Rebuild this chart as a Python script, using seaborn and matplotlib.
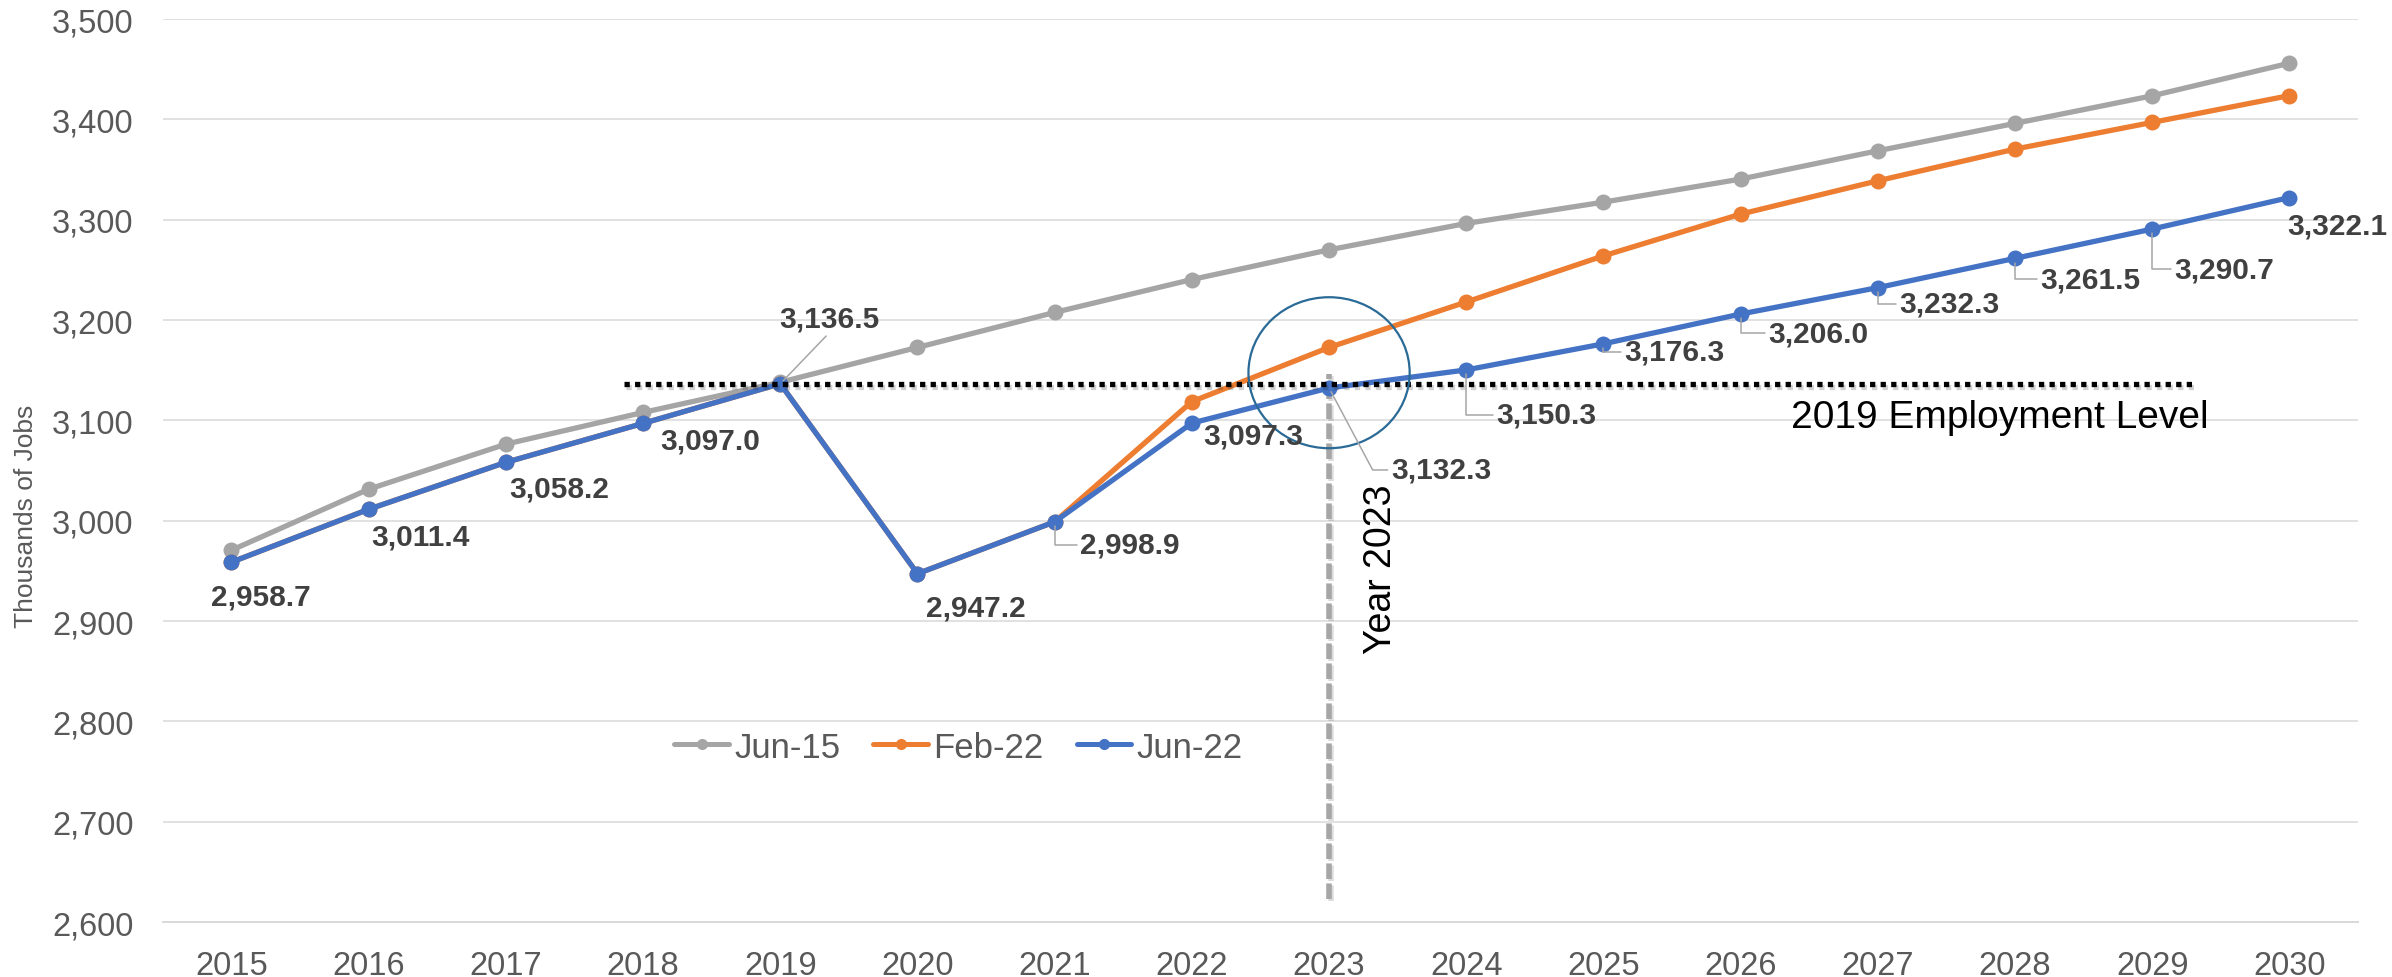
import pandas as pd
import seaborn as sns
import matplotlib.pyplot as plt
import matplotlib.patheffects as pe
from matplotlib.lines import Line2D
from matplotlib.patches import Ellipse
from matplotlib.ticker import FuncFormatter

# data
years = list(range(2015, 2031))
series_names = ["Jun-15", "Feb-22", "Jun-22"]
jun15 = [2970.6, 3031.4, 3076.3, 3107.9, 3138.0, 3172.7, 3207.6, 3240.4,
         3270.0, 3296.3, 3317.5, 3340.5, 3368.7, 3396.0, 3423.5, 3456.0]
feb22 = [2958.7, 3011.4, 3058.2, 3097.0, 3136.5, 2947.2, 2998.9, 3118.7,
         3172.7, 3218.0, 3264.0, 3305.6, 3338.8, 3370.4, 3397.0, 3423.7]
jun22 = [2958.7, 3011.4, 3058.2, 3097.0, 3136.5, 2947.2, 2998.9, 3097.3,
         3132.3, 3150.3, 3176.3, 3206.0, 3232.3, 3261.5, 3290.7, 3322.1]
colors = ["#A5A5A5", "#ED7D31", "#4472C4"]

ref_year = 2023
level_2019 = jun22[years.index(2019)]
level_line_span = (2017.86, 2029.29)
ref_line_span = (2623, 3146)

# where each Jun-22 label sits, in pixels from its point (dx right, dy down),
# and what kind of leader line it gets
label_layout = [
    (29, 34, None), (52, 27, None), (53, 26, None), (67, 17, None),
    (49, -65, "straight"), (58, 34, None), (75, 23, "L"), (61, 12, None),
    (112, 82, "diag"), (80, 45, "L"), (71, 8, "L"), (78, 19, "L"),
    (72, 16, "L"), (75, 21, "L"), (72, 40, "L"), (48, 28, None),
]

df = pd.DataFrame({
    "year": years * 3,
    "jobs": jun15 + feb22 + jun22,
    "series": [s for s in series_names for _ in years],
})

sns.set_theme(style="white")
plt.rcParams["font.family"] = ["Liberation Sans", "DejaVu Sans"]

fig, ax = plt.subplots(figsize=(23.92, 9.78), dpi=100)
fig.subplots_adjust(left=0.0681, right=0.9858, bottom=0.0562, top=0.9795)

sns.lineplot(data=df, x="year", y="jobs", hue="series", hue_order=series_names,
             palette=colors, marker="o", markersize=11.5, markeredgewidth=0,
             linewidth=3.8, legend=False, ax=ax, zorder=3)

ax.set_xlim(2014.5, 2030.5)
ax.set_ylim(2600, 3500)

# axes / grid
ax.set_yticks(range(2600, 3501, 100))
ax.yaxis.set_major_formatter(FuncFormatter(lambda v, p: f"{v:,.0f}"))
ax.set_xticks(years)
ax.set_xticks([y - 0.5 for y in years] + [years[-1] + 0.5], minor=True)
ax.grid(axis="y", color="#D9D9D9", linewidth=1.1)
for side in ["left", "right", "top"]:
    ax.spines[side].set_visible(False)
ax.spines["bottom"].set_color("#D9D9D9")
ax.spines["bottom"].set_linewidth(1.4)
ax.tick_params(axis="x", which="major", direction="inout", length=10, width=1.1,
               color="#D9D9D9", pad=15, labelsize=23.5, labelcolor="#595959")
ax.tick_params(axis="x", which="minor", direction="inout", length=13, width=1.1,
               color="#D9D9D9")
ax.tick_params(axis="y", length=0, pad=21, labelsize=23.5, labelcolor="#595959")
ax.set_xlabel("")
ax.set_ylabel("Thousands of Jobs", fontsize=19, color="#595959", va="center")
ax.yaxis.set_label_coords(-0.0624, 0.4507)

# 2019 employment level line
ax.hlines(level_2019, *level_line_span, colors="black", linewidth=3.8,
          linestyles=(0, (1, 1)), zorder=4,
          path_effects=[pe.SimpleLineShadow(offset=(1.5, -2.5), alpha=0.2), pe.Normal()])
ax.text(2027.89, 3093, "2019 Employment Level", fontsize=28, color="black",
        ha="center", va="baseline")

# year 2023 marker
ax.vlines(ref_year, *ref_line_span, colors="#A6A6A6", linewidth=4,
          linestyles=(0, (2.8, 0.8)), zorder=2,
          path_effects=[pe.SimpleLineShadow(offset=(1.5, -1.5), alpha=0.15), pe.Normal()])
ax.text(ref_year + 0.38, 2953, "Year 2023", fontsize=27, color="black",
        rotation=90, ha="center", va="center")
ax.add_patch(Ellipse((ref_year, 3147.5), 1.175, 150.5, fill=False,
                     edgecolor="#2A6A96", linewidth=1.6, zorder=5))

# data labels for the Jun-22 series
leader = dict(arrowstyle="-", color="#A6A6A6", lw=1.1, shrinkA=0, shrinkB=3)
for yr, val, (dx, dy, kind) in zip(years, jun22, label_layout):
    props = None
    if kind == "L":
        props = dict(leader, connectionstyle="angle,angleA=0,angleB=90,rad=0")
    elif kind == "diag":
        props = dict(leader, connectionstyle="angle,angleA=0,angleB=-62,rad=0")
    elif kind == "straight":
        props = dict(leader, relpos=(0.5, 0))
    ax.annotate(f"{val:,.1f}", xy=(yr, val), xytext=(dx, -dy),
                textcoords="offset pixels", ha="center", va="center",
                fontsize=21.5, fontweight="bold", color="#404040",
                arrowprops=props, zorder=6)

# legend
handles = [Line2D([], [], color=c, linewidth=3.6, marker="o", markersize=8,
                  markeredgewidth=0) for c in colors]
ax.legend(handles, series_names, loc="center", bbox_to_anchor=(0.3624, 0.1938),
          ncol=3, frameon=False, fontsize=25, handlelength=1.58,
          handletextpad=0.15, columnspacing=0.95, labelcolor="#595959")

fig.savefig("out.png", dpi=100)
